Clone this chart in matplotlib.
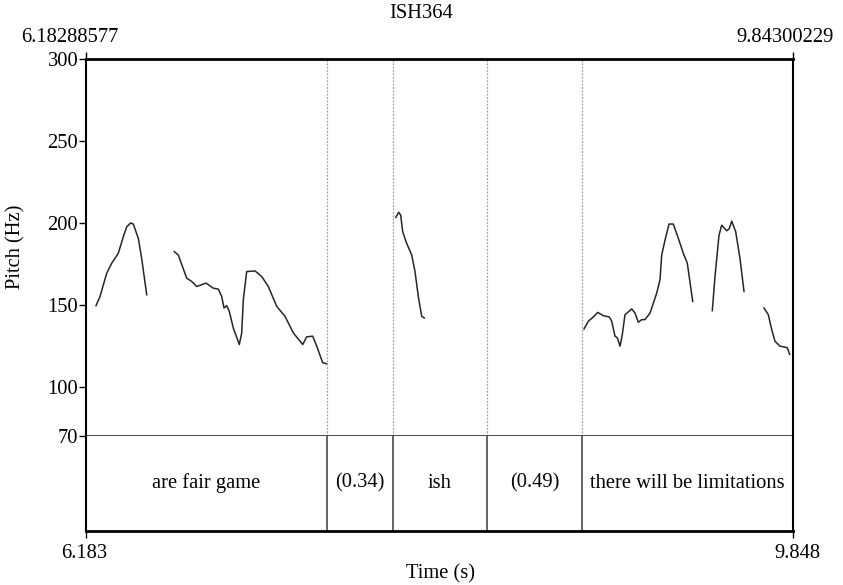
import matplotlib
matplotlib.use("Agg")
import matplotlib.pyplot as plt

plt.rcParams['font.family'] = ['Liberation Serif', 'DejaVu Serif']

title = "ISH364"
t_start = 6.18288577
t_end = 9.84300229
top_left_label = "6.18288577"
top_right_label = "9.84300229"
bottom_left_label = "6.183"
bottom_right_label = "9.848"
y_min, y_max = 70, 300
y_ticks = [70, 100, 150, 200, 250, 300]

seg1_t = [6.2347, 6.2554, 6.2901, 6.3160, 6.3502, 6.3761, 6.3937, 6.4144, 6.4279, 6.4538, 6.4714, 6.4973]
seg1_hz = [149.5, 155.1, 169.3, 175.4, 181.5, 191.5, 197.6, 200.0, 199.3, 190.6, 178.2, 156.2]

seg2_t = [6.6402, 6.6609, 6.7044, 6.7303, 6.7562, 6.8044, 6.8422, 6.8681, 6.8857, 6.8976, 6.9116, 6.9251,
          6.9458, 6.9769, 6.9893, 6.9976, 7.0152, 7.0582, 7.0929, 7.1271, 7.1706, 7.2136, 7.2566, 7.3052,
          7.3260, 7.3570, 7.3778, 7.4088, 7.4296]
seg2_hz = [182.5, 180.4, 166.3, 164.3, 161.2, 163.3, 160.2, 159.6, 155.1, 148.1, 149.5, 146.0,
           135.9, 125.8, 132.9, 153.1, 170.3, 170.7, 167.3, 161.2, 149.1, 143.0, 132.9, 125.8,
           130.5, 130.9, 124.8, 114.7, 114.1]

seg3_t = [7.7869, 7.8024, 7.8128, 7.8232, 7.8439, 7.8698, 7.8869, 7.9040, 7.9216, 7.9350]
seg3_hz = [203.3, 206.5, 204.7, 194.6, 187.5, 180.4, 170.3, 155.1, 143.0, 142.0]

seg4_t = [8.7621, 8.7844, 8.8103, 8.8331, 8.8621, 8.8932, 8.9056, 8.9227, 8.9346, 8.9486, 8.9605, 8.9745,
          9.0092, 9.0263, 9.0434, 9.0610, 9.0781, 9.1040, 9.1387, 9.1558, 9.1646, 9.1817, 9.2024, 9.2247,
          9.2506, 9.2764, 9.2972, 9.3251]
seg4_hz = [135.3, 140.0, 142.6, 145.4, 143.4, 142.6, 140.0, 130.9, 129.9, 124.8, 131.9, 144.0,
           147.5, 145.0, 139.4, 141.0, 141.0, 145.0, 157.2, 165.4, 180.4, 189.5, 199.3, 199.3,
           190.6, 181.5, 175.4, 152.1]

seg5_t = [9.4266, 9.4406, 9.4613, 9.4753, 9.5012, 9.5147, 9.5271, 9.5478, 9.5701, 9.5908]
seg5_hz = [146.5, 167.3, 192.5, 198.6, 195.2, 196.5, 201.1, 194.6, 178.2, 158.2]

seg6_t = [9.6944, 9.7167, 9.7343, 9.7514, 9.7773, 9.8032, 9.8151, 9.8275]
seg6_hz = [148.1, 144.0, 134.9, 127.8, 124.8, 124.2, 123.8, 119.8]

boundaries = [7.432, 7.772, 8.260, 8.750]
interval_labels = ["are fair game", "(0.34)", "ish", "(0.49)", "there will be limitations"]

FS = 14.8
W, H = 843, 585
fig = plt.figure(figsize=(W / 100, H / 100), dpi=100)

left, right = 86 / W, 792.7 / W
top_px, mid_px, bot_px = 59, 436, 530.7
ax = fig.add_axes([left, 1 - mid_px / H, right - left, (mid_px - top_px) / H])
ax2 = fig.add_axes([left, 1 - bot_px / H, right - left, (bot_px - mid_px) / H])

segments = [(seg1_t, seg1_hz), (seg2_t, seg2_hz), (seg3_t, seg3_hz),
            (seg4_t, seg4_hz), (seg5_t, seg5_hz), (seg6_t, seg6_hz)]
for ts, hz in segments:
    ax.plot(ts, hz, color='#262626', lw=1.1, solid_joinstyle='round')

for b in boundaries:
    ax.axvline(b, color='#a0a0a0', lw=0.9, ls=(0, (1.5, 1.2)))
    ax2.axvline(b, color='#3a3a3a', lw=1.1)

ax.set_xlim(t_start, t_end)
ax.set_ylim(y_min, y_max)
ax.set_yticks(y_ticks)
ax.set_yticklabels([str(v) for v in y_ticks], fontsize=FS)
ax.tick_params(axis='y', direction='out', length=5, width=1, pad=0.5)
ax.set_xticks([t_start, t_end])
ax.tick_params(axis='x', direction='out', length=5, width=1, bottom=False, top=True,
               labelbottom=False, labeltop=False)

for s in ['left', 'right', 'top']:
    ax.spines[s].set_linewidth(1.5)
ax.spines['top'].set_linewidth(2.0)
ax.spines['bottom'].set_linewidth(1.3)
ax.spines['bottom'].set_color('#3c3c3c')

ax2.set_xlim(t_start, t_end)
ax2.set_ylim(0, 1)
ax2.set_yticks([])
ax2.set_xticks([t_start, t_end])
ax2.tick_params(axis='x', direction='out', length=5, width=1, labelbottom=False)
for s in ['left', 'right']:
    ax2.spines[s].set_linewidth(1.5)
ax2.spines['bottom'].set_linewidth(2.0)
ax2.spines['top'].set_visible(False)

edges = [t_start] + boundaries + [t_end]
for i, lab in enumerate(interval_labels):
    ax2.text((edges[i] + edges[i + 1]) / 2, 0.5, lab, ha='center', va='center', fontsize=FS)

fig.text(421 / W, 1 - 13 / H, title, ha='center', va='center', fontsize=FS)
fig.text(70 / W, 1 - 38 / H, top_left_label, ha='center', va='center', fontsize=FS)
fig.text(785 / W, 1 - 38 / H, top_right_label, ha='center', va='center', fontsize=FS)
fig.text(84 / W, 1 - 554 / H, bottom_left_label, ha='center', va='center', fontsize=FS)
fig.text(797 / W, 1 - 554 / H, bottom_right_label, ha='center', va='center', fontsize=FS)
fig.text(441 / W, 1 - 574 / H, "Time (s)", ha='center', va='center', fontsize=FS)
fig.text(16 / W, 1 - 247 / H, "Pitch (Hz)", ha='center', va='center', rotation=90, fontsize=FS)

fig.savefig("out.png", dpi=100)
